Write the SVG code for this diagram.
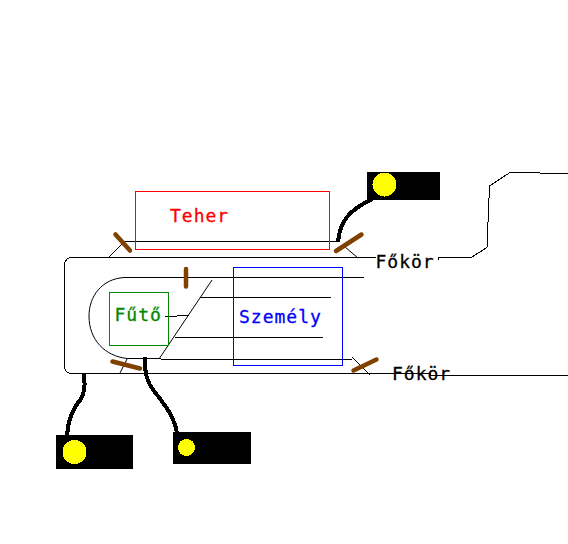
<svg xmlns="http://www.w3.org/2000/svg" width="568" height="544" viewBox="0 0 568 544">
<style>
.l{fill:none;stroke:#000;stroke-width:1;shape-rendering:crispEdges}
.t{fill:none;stroke:#000;stroke-width:1;shape-rendering:auto}
.h{fill:none;stroke:#000;stroke-width:4;shape-rendering:crispEdges}
.b{fill:none;stroke:#804000;stroke-width:4.500;stroke-linecap:round}
.k{fill:#000;shape-rendering:crispEdges}
.y{fill:#ff0;shape-rendering:crispEdges}
.box{fill:none;stroke-width:1;shape-rendering:crispEdges}
text{font-family:"DejaVu Sans Mono",monospace;font-size:18px;letter-spacing:1px;stroke-width:.3}
</style>
<rect width="568" height="544" fill="#fff"/>
<g id="connectors">
<path class="l" d="M376 257.500H72.500Q64.500 257.500 64.500 265.500V365.500Q64.500 373.500 72.500 373.500H430V375.500H568"/>
<path class="l" d="M438.500 260V257.500H471L487 247.500L489.500 186L510 172.500L568 173.500"/>
<path class="l" d="M124 277.500H364M125 241.500H336M161 359.500H352M200 297.500H331M175 337.500H323M165 316.500L189 315.500"/>
<path class="t" d="M124 277.500C102 279 89 296 89 316C89 340 105 356 127 358.500H161"/>
<path class="t" d="M125 241L109 257M127 359L120 373M345 247L358 258M352 357L370 375M212 280L159 359"/>
<path class="h" d="M372 199C350 210 340 220 338 242M84 373C85 385 85 392 81 399C72 409 68 420 67 436M144.500 357C145 375 147 382 154 391C165 405 174 416 177 433"/>
</g>
<g id="teher"><rect class="box" x="135.500" y="191.500" width="194" height="58" stroke="#f00"/><text x="170" y="222" fill="#f00" stroke="#f00">Teher</text></g>
<g id="futo"><rect class="box" x="109.500" y="292.500" width="59" height="53" stroke="#080"/><text x="114.500" y="321" fill="#080" stroke="#080">Fűtő</text></g>
<g id="szemely"><rect class="box" x="233.500" y="267.500" width="109" height="98" stroke="#00f"/><text x="239" y="323" fill="#00f" stroke="#00f">Személy</text></g>
<g id="fokor1"><text x="375.500" y="268" fill="#000" stroke="#000">Főkör</text></g>
<g id="fokor2"><text x="392" y="380" fill="#000" stroke="#000">Főkör</text></g>
<g id="breaker1"><path class="b" d="M115.500 234.500L130 250.500"/></g>
<g id="breaker2"><path class="b" d="M186 269V286.500"/></g>
<g id="breaker3"><path class="b" d="M112.500 361.500L140 368.500"/></g>
<g id="breaker4"><path class="b" d="M361.500 234.500L336 251"/></g>
<g id="breaker5"><path class="b" d="M376.500 359.500L353.500 370.500"/></g>
<g id="signal1"><rect class="k" x="367" y="172" width="73" height="28"/><circle class="y" cx="384.500" cy="184.500" r="12"/></g>
<g id="signal2"><rect class="k" x="56" y="435" width="77" height="34"/><circle class="y" cx="74.500" cy="452" r="12"/></g>
<g id="signal3"><rect class="k" x="173" y="432" width="78" height="32"/><circle class="y" cx="186.500" cy="447.500" r="8.500"/></g>
</svg>
